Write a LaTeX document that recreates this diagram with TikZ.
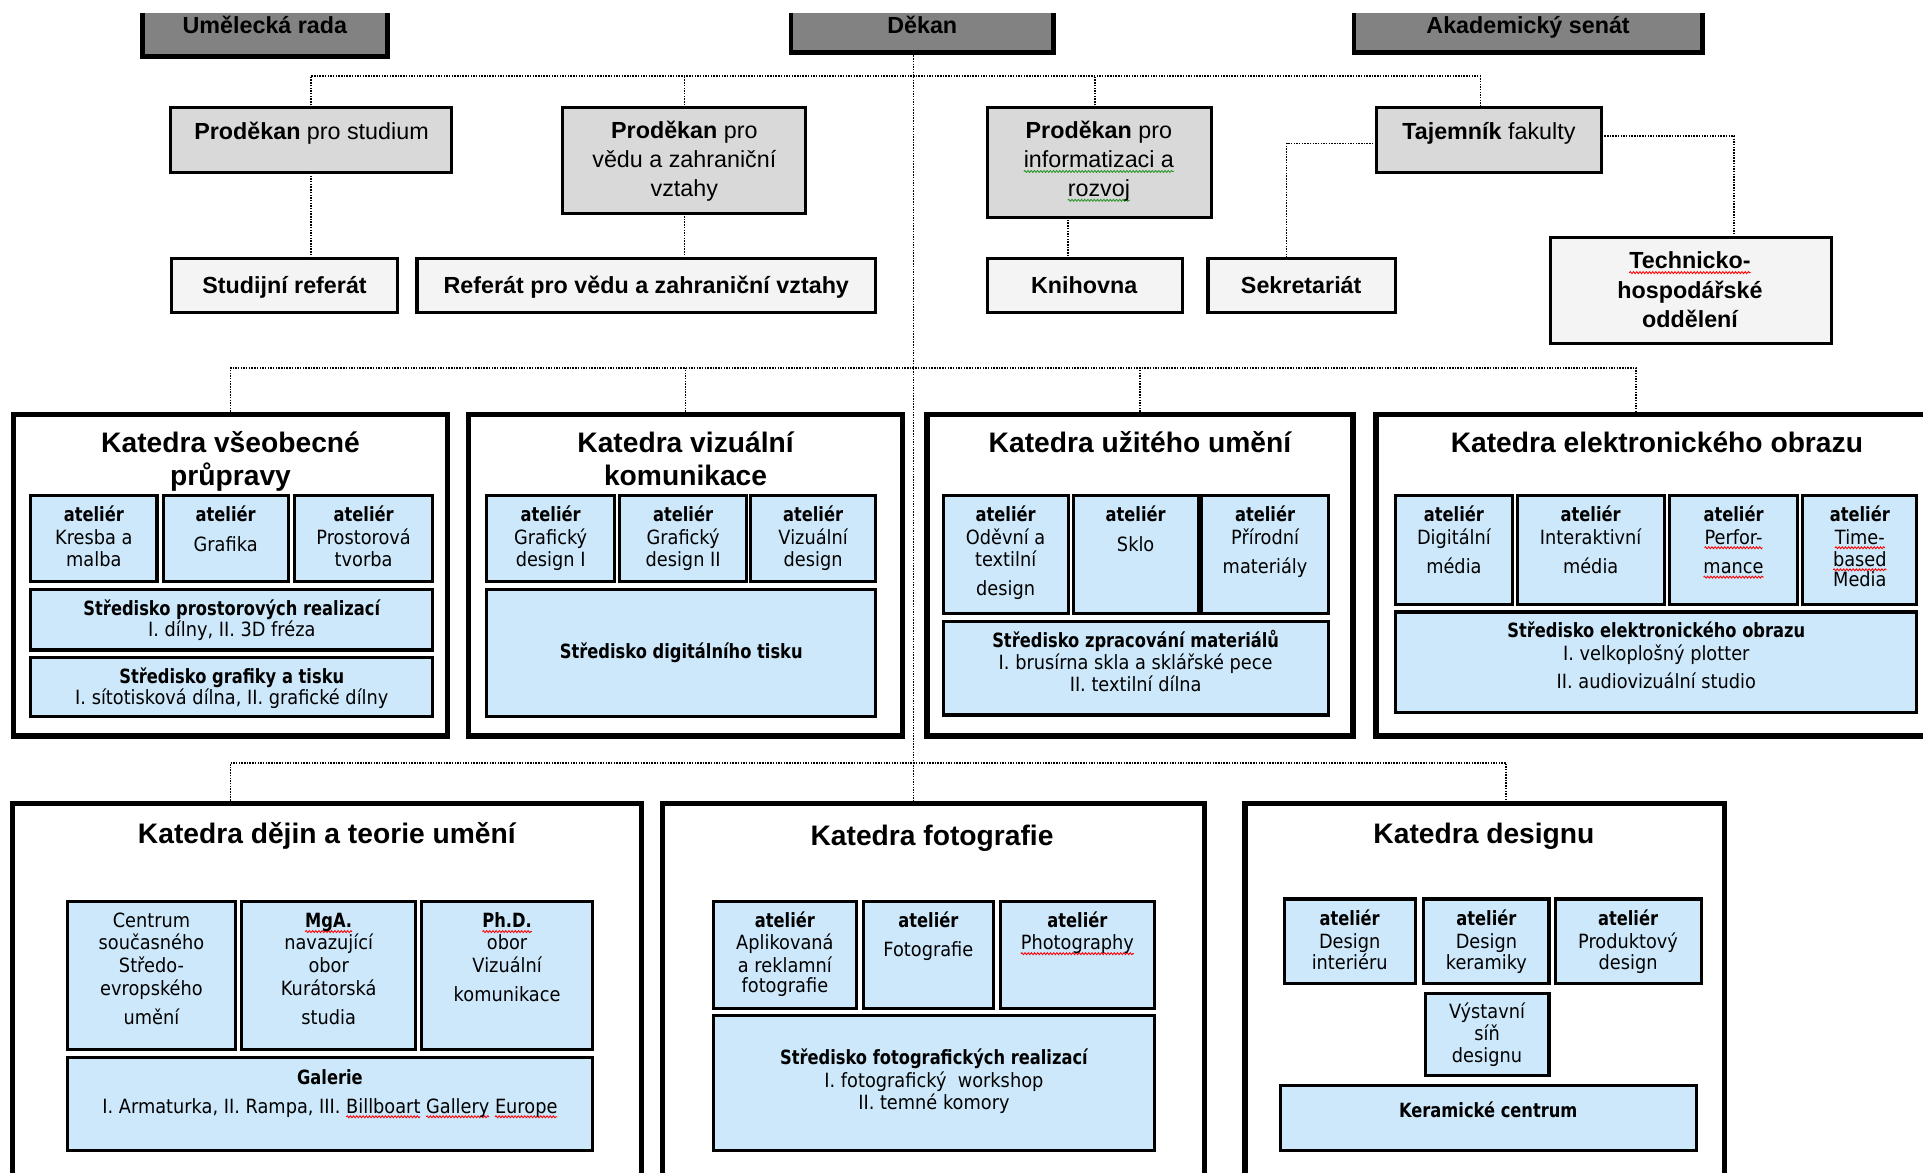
\documentclass[tikz,border=0pt]{standalone}
\usepackage{fontspec}
\setmainfont{Liberation Sans}
\newfontfamily\tahR{DejaVu Sans}[FakeStretch=0.905]
\newfontfamily\tahB{DejaVu Sans}[FakeStretch=0.83]
\usetikzlibrary{calc,decorations.pathmorphing}
\definecolor{topgray}{RGB}{130,130,130}
\definecolor{lgray}{RGB}{217,217,217}
\definecolor{vlgray}{RGB}{244,244,244}
\definecolor{lblue}{RGB}{204,232,250}
\definecolor{wgreen}{RGB}{40,150,40}
\newsavebox\wavebox
\newdimen\wavew
\newcommand\wv[2]{\sbox\wavebox{#2}\wavew=\wd\wavebox\tikz[overlay,x=1pt,y=1pt]\draw[#1, line width=0.7pt, decorate, decoration={snake, amplitude=0.8pt, segment length=2.6pt}] (0pt,-3pt) -- (\wavew,-3pt);\usebox\wavebox}
\newcommand\rwave[1]{\wv{red}{#1}}
\newcommand\gwave[1]{\wv{wgreen}{#1}}
\newcommand\ab[1]{{\tahB\bfseries #1}}
\newcommand\bx[6]{\node[#1, anchor=north west, minimum width={(#5-#3)*1pt}, minimum height={(#6-#4)*1pt}] (#2) at (#3,#4) {};}
\newcommand\tn[5]{\node[#1, anchor=north] (#2) at (#3,#4) {\rule{0pt}{0.9em}#5};}
\newcommand\tb[5]{\node[#1, anchor=base] (#2) at (#3,#4) {#5};}
\tikzset{
  conn/.style={densely dotted, line width=1.2pt},
  boxbase/.style={draw=black, outer sep=0pt, inner sep=0pt},
  topbox/.style={boxbase, line width=4pt, fill=topgray},
  pbox/.style={boxbase, line width=2.5pt, fill=lgray},
  rbox/.style={boxbase, line width=2.5pt, fill=vlgray},
  kbox/.style={boxbase, line width=4.5pt, fill=white},
  abox/.style={boxbase, line width=2.5pt, fill=lblue},
  ttop/.style={font=\bfseries\fontsize{19}{23}\selectfont, inner sep=0pt},
  tp/.style={font=\fontsize{19}{23.5}\selectfont, align=center, inner sep=0pt},
  tpb/.style={font=\bfseries\fontsize{19}{24}\selectfont, align=center, inner sep=0pt},
  tk/.style={font=\bfseries\fontsize{23}{27}\selectfont, align=center, inner sep=0pt},
  ti/.style={font=\tahR\fontsize{16}{18}\selectfont, align=center, inner sep=0pt},
}
\begin{document}
\begin{tikzpicture}[x=1pt,y=-1pt]
\useasboundingbox (0,0) rectangle (1568,956);
\begin{scope}
\clip (0,11) rectangle (1568,956);
% ---------- top row
\bx{topbox}{umr}{116}{-10}{316}{46}
\bx{topbox}{dekan}{645}{-10}{859}{43}
\bx{topbox}{akad}{1104}{-10}{1388}{43}
\tb{ttop}{t-umr}{216}{27}{Umělecká rada}
\tb{ttop}{t-dekan}{752}{27}{Děkan}
\tb{ttop}{t-akad}{1246}{27}{Akademický senát}
% ---------- proděkani
\bx{pbox}{pstud}{139}{88}{368}{141}
\bx{pbox}{pveda}{459}{88}{657}{174}
\bx{pbox}{pinf}{805}{88}{988}{177}
\bx{pbox}{taj}{1122}{88}{1306}{141}
\tb{tp}{t-pstud}{254}{114}{\textbf{Proděkan} pro studium}
\tn{tp}{t-pveda}{558}{96}{\textbf{Proděkan} pro\\vědu a zahraniční\\vztahy}
\tn{tp}{t-pinf}{896}{96}{\textbf{Proděkan} pro\\\gwave{informatizaci a}\\\gwave{rozvoj}}
\tb{tp}{t-taj}{1214}{114}{\textbf{Tajemník} fakulty}
% ---------- referáty
\bx{rbox}{studref}{140}{211}{324}{255}
\bx{rbox}{referat}{340}{211}{714}{255}
\bx{rbox}{knih}{805}{211}{964}{255}
\bx{rbox}{sekr}{985}{211}{1138}{255}
\bx{rbox}{tho}{1264}{194}{1493}{280}
\tb{tpb}{t-studref}{232}{239}{Studijní referát}
\tb{tpb}{t-referat}{527}{239}{Referát pro vědu a zahraniční vztahy}
\tb{tpb}{t-knih}{884}{239}{Knihovna}
\tb{tpb}{t-sekr}{1061}{239}{Sekretariát}
\tn{tpb}{t-tho}{1378}{202}{\rwave{Technicko-}\\hospodářské\\oddělení}
% ---------- Katedra všeobecné průpravy
\bx{kbox}{kvs}{11}{338}{365}{600}
\tn{tk}{t-kvs}{188}{348}{Katedra všeobecné\\průpravy}
\bx{abox}{a1}{25}{404}{128}{474}
\bx{abox}{a2}{133}{404}{235}{474}
\bx{abox}{a3}{240}{404}{353}{474}
\bx{abox}{s1}{25}{481}{353}{530}
\bx{abox}{s2}{25}{536}{353}{584}
\tn{ti}{t-a1}{76.5}{411}{\ab{ateliér}\\Kresba a\\malba}
\tn{ti}{t-a2}{184}{411}{\ab{ateliér}\\[6pt]Grafika}
\tn{ti}{t-a3}{296.5}{411}{\ab{ateliér}\\Prostorová\\tvorba}
\tn{ti}{t-s1}{189}{487}{\ab{Středisko prostorových realizací}\\[-1pt]I. dílny, II. 3D fréza}
\tn{ti}{t-s2}{189}{543}{\ab{Středisko grafiky a tisku}\\[-1pt]I. sítotisková dílna, II. grafické dílny}
% ---------- Katedra vizuální komunikace
\bx{kbox}{kvk}{382}{338}{736}{600}
\tn{tk}{t-kvk}{559}{348}{Katedra vizuální\\komunikace}
\bx{abox}{b1}{397}{404}{501}{474}
\bx{abox}{b2}{505}{404}{609}{474}
\bx{abox}{b3}{612}{404}{714}{474}
\bx{abox}{s3}{397}{481}{714}{584}
\tn{ti}{t-b1}{449}{411}{\ab{ateliér}\\Grafický\\design I}
\tn{ti}{t-b2}{557}{411}{\ab{ateliér}\\Grafický\\design II}
\tn{ti}{t-b3}{663}{411}{\ab{ateliér}\\Vizuální\\design}
\tb{ti}{t-s3}{555.5}{537}{\ab{Středisko digitálního tisku}}
% ---------- Katedra užitého umění
\bx{kbox}{kuu}{756}{338}{1103}{600}
\tb{tk}{t-kuu}{929.5}{369}{Katedra užitého umění}
\bx{abox}{c1}{769}{404}{871}{500}
\bx{abox}{c2}{875}{404}{977}{500}
\bx{abox}{c3}{980}{404}{1083}{500}
\bx{abox}{s4}{769}{507}{1083}{583}
\tn{ti}{t-c1}{820}{411}{\ab{ateliér}\\Oděvní a\\textilní\\[6pt]design}
\tn{ti}{t-c2}{926}{411}{\ab{ateliér}\\[6pt]Sklo}
\tn{ti}{t-c3}{1031.5}{411}{\ab{ateliér}\\Přírodní\\[6pt]materiály}
\tn{ti}{t-s4}{926}{513}{\ab{Středisko zpracování materiálů}\\I. brusírna skla a sklářské pece\\II. textilní dílna}
% ---------- Katedra elektronického obrazu
\bx{kbox}{keo}{1122}{338}{1580}{600}
\tb{tk}{t-keo}{1351}{369}{Katedra elektronického obrazu}
\bx{abox}{d1}{1138}{404}{1233}{493}
\bx{abox}{d2}{1237}{404}{1357}{493}
\bx{abox}{d3}{1361}{404}{1466}{493}
\bx{abox}{d4}{1470}{404}{1563}{493}
\bx{abox}{s5}{1138}{499}{1563}{581}
\tn{ti}{t-d1}{1185.5}{411}{\ab{ateliér}\\Digitální\\[6pt]média}
\tn{ti}{t-d2}{1297}{411}{\ab{ateliér}\\Interaktivní\\[6pt]média}
\tn{ti}{t-d3}{1413.5}{411}{\ab{ateliér}\\\rwave{Perfor-}\\[6pt]\rwave{mance}}
\tn{ti}{t-d4}{1516.5}{411}{\ab{ateliér}\\\rwave{Time-}\\\rwave{based}\\[-1pt]Media}
\tn{ti}{t-s5}{1350.5}{505}{\ab{Středisko elektronického obrazu}\\[1pt]I. velkoplošný plotter\\[5pt]II. audiovizuální studio}
% ---------- Katedra dějin a teorie umění
\bx{kbox}{kdt}{10}{655}{523}{975}
\tb{tk}{t-kdt}{266.5}{688}{Katedra dějin a teorie umění}
\bx{abox}{e1}{55}{735}{192}{856}
\bx{abox}{e2}{197}{735}{339}{856}
\bx{abox}{e3}{344}{735}{483}{856}
\bx{abox}{e4}{55}{862}{483}{938}
\tn{ti}{t-e1}{123.5}{742}{Centrum\\současného\\Středo-\\[1pt]evropského\\[6pt]umění}
\tn{ti}{t-e2}{268}{742}{\ab{\rwave{MgA.}}\\navazující\\obor\\[1pt]Kurátorská\\[6pt]studia}
\tn{ti}{t-e3}{413.5}{742}{\ab{\rwave{Ph.D.}}\\obor\\Vizuální\\[6pt]komunikace}
\tn{ti}{t-e4}{269}{870}{\ab{Galerie}\\[5pt]I. Armaturka, II. Rampa, III. \rwave{Billboart} \rwave{Gallery} \rwave{Europe}}
% ---------- Katedra fotografie
\bx{kbox}{kf}{540}{655}{982}{975}
\tb{tk}{t-kf}{760}{689}{Katedra fotografie}
\bx{abox}{f1}{582}{735}{698}{822}
\bx{abox}{f2}{704}{735}{810}{822}
\bx{abox}{f3}{816}{735}{941}{822}
\bx{abox}{f4}{582}{828}{941}{938}
\tn{ti}{t-f1}{640}{742}{\ab{ateliér}\\Aplikovaná\\a reklamní\\[-1pt]fotografie}
\tn{ti}{t-f2}{757}{742}{\ab{ateliér}\\[5pt]Fotografie}
\tn{ti}{t-f3}{878.5}{742}{\ab{ateliér}\\\rwave{Photography}}
\tn{ti}{t-f4}{761.5}{853}{\ab{Středisko fotografických realizací}\\[1pt]I. fotografický\ \ workshop\\II. temné komory}
% ---------- Katedra designu
\bx{kbox}{kd}{1015}{655}{1406}{975}
\tb{tk}{t-kd}{1210}{688}{Katedra designu}
\bx{abox}{g1}{1047}{733}{1154}{802}
\bx{abox}{g2}{1161}{733}{1263}{802}
\bx{abox}{g3}{1268}{733}{1387}{802}
\bx{abox}{g4}{1162}{810}{1263}{877}
\bx{abox}{g5}{1044}{885}{1383}{938}
\tn{ti}{t-g1}{1100.5}{740}{\ab{ateliér}\\[1pt]Design\\[-1pt]interiéru}
\tn{ti}{t-g2}{1212}{740}{\ab{ateliér}\\[1pt]Design\\[-1pt]keramiky}
\tn{ti}{t-g3}{1327.5}{740}{\ab{ateliér}\\[1pt]Produktový\\[-1pt]design}
\tn{ti}{t-g4}{1212.5}{816}{Výstavní\\síň\\designu}
\tb{ti}{t-g5}{1213.5}{911}{\ab{Keramické centrum}}
% ---------- connectors
\coordinate (bus2) at (0,62);
\coordinate (bus4) at (0,300);
\coordinate (bus5) at (0,622);
\draw[conn] ([yshift=8pt]umr.east) -- ([yshift=8pt]umr.east -| dekan.west);
\draw[conn] ([yshift=6.5pt]dekan.east) -- ([yshift=6.5pt]dekan.east -| akad.west);
\draw[conn] ([xshift=-7pt]dekan.south) -- ([xshift=-7pt]dekan.south |- kf.north);
\draw[conn] (pstud.north) |- ([xshift=-7pt]taj.north |- bus2) -- ([xshift=-7pt]taj.north);
\draw[conn] (pveda.north) -- (pveda.north |- bus2);
\draw[conn] ([xshift=-3.5pt]pinf.north) -- ([xshift=-3.5pt]pinf.north |- bus2);
\draw[conn] (pstud.south) -- (pstud.south |- studref.north);
\draw[conn] (pveda.south) -- (pveda.south |- referat.north);
\draw[conn] ([xshift=-25.5pt]pinf.south) -- ([xshift=-25.5pt]pinf.south |- knih.north);
\draw[conn] ([yshift=-2.5pt]taj.west) -| ([xshift=-12.5pt]sekr.north);
\draw[conn] ([yshift=3.5pt]taj.east) -| ([xshift=35.5pt]tho.north);
\draw[conn] (kvs.north) |- ([xshift=-17pt]keo.north |- bus4) -- ([xshift=-17pt]keo.north);
\draw[conn] (kvk.north) -- (kvk.north |- bus4);
\draw[conn] (kuu.north) -- (kuu.north |- bus4);
\draw[conn] ([xshift=-78.5pt]kdt.north) |- ([xshift=17.5pt]kd.north |- bus5) -- ([xshift=17.5pt]kd.north);
\end{scope}
\end{tikzpicture}
\end{document}
